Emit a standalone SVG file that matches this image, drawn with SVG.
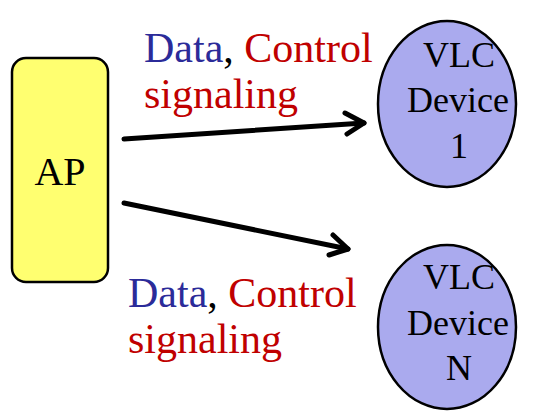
<svg xmlns="http://www.w3.org/2000/svg" width="539" height="411" viewBox="0 0 539 411">
  <defs>
    <style>
      .ap { fill: #ffff70; stroke: #000; stroke-width: 2.5; }
      .dev { fill: #aaaaee; stroke: #000; stroke-width: 2.5; }
      .t { font-family: "Liberation Serif", "Times New Roman", serif; fill: #000; }
      .node-t { font-size: 36px; text-anchor: middle; }
      .lbl { font-size: 42px; }
      .blue { fill: #2b2b99; }
      .red { fill: #c00000; }
      .conn { stroke: #000; stroke-width: 5; fill: none; stroke-linecap: round; }
      .head { stroke: #000; stroke-width: 5; fill: none; stroke-linecap: round; stroke-linejoin: round; }
    </style>
  </defs>
  <rect width="539" height="411" fill="#fff"/>

  <g id="ap">
    <rect class="ap" x="12" y="58" width="96" height="224" rx="14" ry="14"/>
    <text class="t node-t" x="60" y="185" style="font-size:40px">AP</text>
  </g>

  <g id="device-1">
    <ellipse class="dev" cx="447" cy="104" rx="69" ry="83"/>
    <text class="t node-t" x="459" y="67">VLC</text>
    <text class="t node-t" x="458" y="112">Device</text>
    <text class="t node-t" x="459" y="158">1</text>
  </g>

  <g id="device-n">
    <ellipse class="dev" cx="447" cy="327" rx="69" ry="82"/>
    <text class="t node-t" x="459" y="289">VLC</text>
    <text class="t node-t" x="458" y="335">Device</text>
    <text class="t node-t" x="459" y="380">N</text>
  </g>

  <g id="connectors">
    <line class="conn" x1="124" y1="139" x2="364" y2="123"/>
    <polyline class="head" points="345,113 364,123 347,134"/>
    <line class="conn" x1="124" y1="203" x2="348" y2="249"/>
    <polyline class="head" points="333,235 348,249 329,255"/>
  </g>

  <g id="label-top">
    <text class="t lbl" x="144" y="62"><tspan class="blue">Data</tspan>, <tspan class="red">Control</tspan></text>
    <text class="t lbl red" x="144" y="108">signaling</text>
  </g>

  <g id="label-bottom">
    <text class="t lbl" x="128" y="307"><tspan class="blue">Data</tspan>, <tspan class="red">Control</tspan></text>
    <text class="t lbl red" x="128" y="353">signaling</text>
  </g>
</svg>
